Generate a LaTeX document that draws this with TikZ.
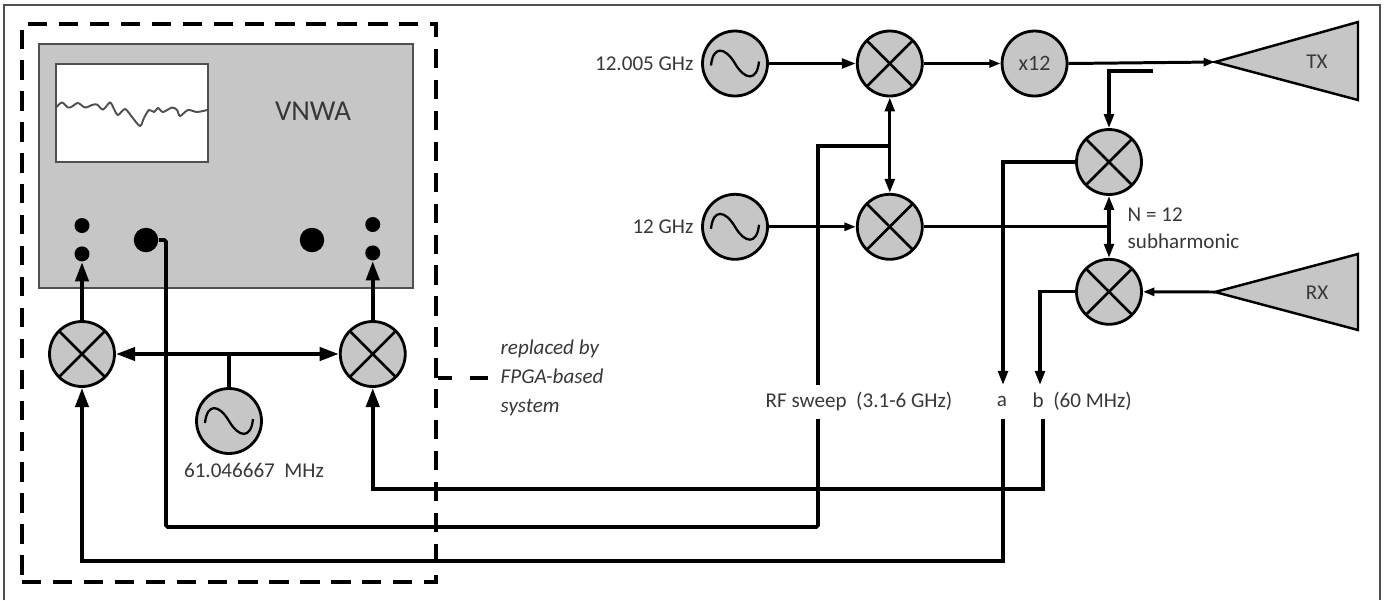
\documentclass[tikz,border=0pt]{standalone}
\usepackage{fontspec}
\setmainfont{Carlito}
\usetikzlibrary{positioning, arrows.meta, fit}
\definecolor{mygrey}{RGB}{198, 198, 198}
\definecolor{mytext}{RGB}{56, 56, 56}
\definecolor{myframe}{RGB}{80, 80, 80}

\begin{document}
\begin{tikzpicture}[x = 0.02cm, y = -0.02cm, thick,
  mixer/.style={circle, draw = black, fill = mygrey, line width = 1.6pt, minimum size = 1.3cm, inner sep = 0pt,
    path picture={\draw[line width = 1.5pt] (path picture bounding box.north west) -- (path picture bounding box.south east);
      \draw[line width = 1.5pt] (path picture bounding box.north east) -- (path picture bounding box.south west);}},
  osc/.style={circle, draw = black, fill = mygrey, line width = 1.6pt, minimum size = 1.3cm, inner sep = 0pt,
    path picture={\draw[line width = 1.3pt] ([shift={(-24,2)}]path picture bounding box.center)
      .. controls +(2,-20) and +(-10,-17) .. ([shift={(0,0)}]path picture bounding box.center)
      .. controls +(10,17) and +(-2,20) .. ([shift={(24,-2)}]path picture bounding box.center);}},
  mult/.style={circle, draw = black, fill = mygrey, line width = 1.6pt, minimum size = 1.3cm, inner sep = 0pt, text = mytext, font = \fontsize{12.5pt}{15pt}\selectfont},
  port/.style={circle, fill = black, inner sep = 0pt},
  horn/.style={draw = black, fill = mygrey, line width = 1.4pt, line join = miter},
  note/.style={text = mytext, inner sep = 0pt, font = \fontsize{12pt}{15pt}\selectfont},
  heavy/.style={line width = 2.2pt, >={Stealth[inset = 0pt, length = 11pt, width = 7.5pt]}},
  medium/.style={line width = 1.9pt, >={Stealth[inset = 0pt, length = 8pt, width = 5.5pt]}},
  light/.style={line width = 1.7pt, >={Stealth[inset = 0pt, length = 6.5pt, width = 4.5pt]}},
  dashy/.style={black, line width = 2.2pt, dash pattern = on 11pt off 6.6pt}]

  % page and outer frame
  \useasboundingbox (0,0) rectangle (1387,600);
  \draw[myframe, line width = 1.1pt] (4,600) -- (4,5) -- (1380,5) -- (1380,600);

  % instrument
  \node (vnwa) [draw = myframe, fill = mygrey, line width = 0.9pt, minimum width = 7.48cm, minimum height = 4.88cm, inner sep = 0pt] at (226,166) {};
  \node (screen) [draw = myframe, fill = white, line width = 0.9pt, minimum width = 3.04cm, minimum height = 1.96cm, inner sep = 0pt] at (132,113) {};
  \draw[myframe, line width = 1.1pt] plot[smooth, tension = 0.5] coordinates {(56.5,107) (62,102.5) (68,107.5) (72,106.5) (78,103) (85,107.5) (92,105) (97,104.5) (103,109.5) (110,102.5) (114,109) (118,115) (125,109) (132,117) (140,126) (144,118) (149,110) (154,112) (158,108) (163,112) (172,107.5) (177,110) (180,116) (188,110) (197,112) (207,110)};
  \node (vnwa-label) [text = mytext, inner sep = 0pt, font = \fontsize{16.4pt}{19pt}\selectfont] at (313,111) {VNWA};

  % left mixers and local oscillator
  \node [mixer] (mixer-l) at (82,354) {};
  \node [mixer] [right = 4.46cm of mixer-l] (mixer-r) {};
  \node [osc] (osc-lo) at (229,421) {};
  \node [note] (osc-lo-label) at (254,470) {61.046667\ \ MHz};

  % ports
  \node [port, minimum size = 0.3cm] [above = 1.16cm of mixer-l] (port-2) {};
  \node [port, minimum size = 0.3cm] [above = 0.24cm of port-2] (port-1) {};
  \node [port, minimum size = 0.3cm] [above = 1.18cm of mixer-r] (port-4) {};
  \node [port, minimum size = 0.3cm] [above = 0.24cm of port-4] (port-3) {};
  \node [port, minimum size = 0.49cm] (port-5) at (146,240) {};
  \node [port, minimum size = 0.49cm] (port-6) at (312,240) {};

  % upper chain
  \node [osc] (osc-1) at (735,63.5) {};
  \node [mixer] [right = 1.74cm of osc-1] (mixer-1) {};
  \node [mult] [right = 1.54cm of mixer-1] (mult-12) {x12};
  \node [osc] [below = 1.91cm of osc-1] (osc-2) {};
  \node [mixer] [below = 1.91cm of mixer-1] (mixer-2) {};
  \node [note] [left = 0.14cm of osc-1] (osc-1-label) {12.005 GHz};
  \node [note] [left = 0.14cm of osc-2] (osc-2-label) {12 GHz};

  % receive mixers
  \node [mixer] (mixer-3) at (1109,162) {};
  \node [mixer] [below = 1.24cm of mixer-3] (mixer-4) {};
  \node [note, anchor = west] (sub-label-1) at (1127,215) {N = 12};
  \node [note, anchor = west] (sub-label-2) at (1127,241) {subharmonic};

  % antennas
  \draw[horn] (1215,62) coordinate (tx-tip) -- (1358,22) -- (1358,100) -- cycle;
  \draw[horn] (1215,292) coordinate (rx-tip) -- (1358,254) -- (1358,330) -- cycle;
  \node [note] (tx-label) at (1317,62) {TX};
  \node [note] (rx-label) at (1317,293) {RX};

  % signal names
  \node [note] (rf-label) at (859,401) {RF sweep\ \ (3.1-6 GHz)};
  \node [note] (a-label) at (1002,401) {a};
  \node [note, anchor = west] (b-label) at (1032,401) {b\ \ (60 MHz)};

  % free ends
  \coordinate (rf-top) at (818,385);
  \coordinate (rf-bottom) at (818,419);
  \coordinate (a-top) at (1003,385);
  \coordinate (a-bottom) at (1003,419);
  \coordinate (b-top) at (1040,385);
  \coordinate (b-bottom) at (1043,419);
  \coordinate (ref-stub) at (1153,71);
  \coordinate (rf-tee) at (mixer-1 |- 0,146);
  \coordinate (if-tee) at (mixer-3 |- mixer-2);

  % left edges
  \draw[heavy, ->] (mixer-l.north) -- (port-2.south);
  \draw[heavy, ->] (mixer-r.north) -- (port-4.south);
  \draw[heavy, <->] (mixer-l.east) -- (mixer-r.west);
  \draw[heavy] (osc-lo.north) -- (osc-lo.north |- mixer-l);

  % right edges
  \draw[medium, ->] (osc-1.east) -- (mixer-1.west);
  \draw[light, ->] (osc-2.east) -- (mixer-2.west);
  \draw[light, ->] (mixer-1.east) -- (mult-12.west);
  \draw[light, ->] (mult-12.east) -- (tx-tip);
  \draw[light, ->] (rx-tip) -- (mixer-4.east);
  \draw[medium, ->] (ref-stub) -| (mixer-3.north);
  \draw[medium] (mixer-2.east) -- (if-tee);
  \draw[medium, ->] (if-tee) -- (mixer-3.south);
  \draw[medium, ->] (if-tee) -- (mixer-4.north);
  \draw[medium, ->] (rf-tee) -- (mixer-1.south);
  \draw[medium, ->] (rf-tee) -- (mixer-2.north);
  \draw[medium] (rf-top) |- (rf-tee);
  \draw[medium, ->] (mixer-3.west) -| (a-top);
  \draw[medium, ->] (mixer-4.west) -| (b-top);

  % long returns
  \draw[heavy, rounded corners = 1pt] (port-5.east) -- (166,240) |- (rf-bottom |- 0,527) -- (rf-bottom);
  \draw[heavy, ->] (a-bottom) |- (mixer-l.south |- 0,561) -- (mixer-l.south);
  \draw[heavy, ->] (b-bottom) |- (mixer-r.south |- 0,489) -- (mixer-r.south);

  % replaced part - dashed
  \coordinate (box-nw) at (22,24);
  \coordinate (box-se) at (436,582);
  \node (fpga-box) [dashy, draw, fit = (box-nw) (box-se), inner sep = 0pt] {};
  \coordinate (stub-end) at (488,378);
  \draw[black, line width = 2.2pt, dash pattern = on 8pt off 10pt on 11pt off 20pt] (stub-end -| fpga-box.east) -- (stub-end);
  \node [note, anchor = west, align = left, font = \fontsize{12pt}{16.6pt}\selectfont\itshape] (fpga-label) at (500,378) {replaced by\\FPGA-based\\system};

\end{tikzpicture}
\end{document}
